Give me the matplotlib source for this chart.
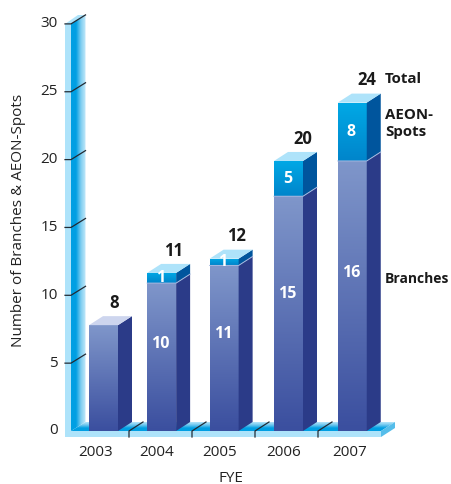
import numpy as np
import matplotlib
matplotlib.use('Agg')
import matplotlib.pyplot as plt
from matplotlib.colors import LinearSegmentedColormap
from matplotlib.patches import Polygon

years = ['2003', '2004', '2005', '2006', '2007']
bar_pos = [0, 0.93, 1.93, 2.96, 3.98]
# drawn heights do not follow the printed numbers, so both are kept
branch_height = [7.8, 10.9, 12.2, 17.3, 19.9]
spot_height = [0, 0.75, 0.5, 2.6, 4.3]
branch_labels = ['', '10', '11', '15', '16']
spot_labels = ['', '1', '1', '5', '8']
total_labels = ['8', '11', '12', '20', '24']
y_ticks = [0, 5, 10, 15, 20, 25, 30]

PX_X = 62.5
PX_Y = 13.57
W, H = 452, 484
X0, Y0 = 103.5, 431

# label nudges in pixels, the printed labels sit off centre of the bars
year_shift = [-7.5, -4.5, -4.5, -5, -2.5]
total_shift = [10.5, 11.5, 12, 14.5, 14.5]

def x(px):
    return (px - X0) / PX_X

def y(py):
    return (Y0 - py) / PX_Y

bw = 29 / PX_X
dx = 14 / PX_X
dy = 9 / PX_Y

plt.rcParams['font.family'] = ['Open Sans', 'DejaVu Sans']
fig = plt.figure(figsize=(W / 100, H / 100), dpi=100)
ax = fig.add_axes([0, 0, 1, 1])
ax.axis('off')

def grad_poly(pts, colors, horizontal=False, z=2):
    # colors run bottom to top, or left to right
    pts = np.array(pts)
    g = np.linspace(0, 1, 64)
    g = g.reshape(1, -1) if horizontal else g.reshape(-1, 1)
    cm = LinearSegmentedColormap.from_list('g', colors)
    im = ax.imshow(g, cmap=cm, origin='lower', aspect='auto', zorder=z,
                   extent=[pts[:, 0].min(), pts[:, 0].max(), pts[:, 1].min(), pts[:, 1].max()],
                   interpolation='bilinear')
    clip = Polygon(pts, closed=True, transform=ax.transData, fc='none', ec='none')
    ax.add_patch(clip)
    im.set_clip_path(clip)

def poly(pts, color, z=2):
    ax.add_patch(Polygon(pts, closed=True, fc=color, ec='none', zorder=z))

light = '#aee3fa'
blue = '#009fe3'

# back wall
poly([(x(65), y(24)), (x(71), y(24)), (x(85.5), y(15)), (x(78), y(15))], light)
poly([(x(65), y(24)), (x(71), y(24)), (x(71), y(437)), (x(65), y(437))], light)
grad_poly([(x(71), y(24)), (x(85.5), y(15)), (x(85.5), y(422)), (x(71), y(431))],
          [blue, blue, '#7fcdf0', '#c4eafb'], horizontal=True)

# floor
grad_poly([(x(71), y(431)), (x(85.5), y(422)), (x(395), y(422)), (x(381), y(431))],
          [blue, blue, '#6cc6ee', '#b5e5fa'])
poly([(x(65), y(431)), (x(381), y(431)), (x(381), y(437)), (x(65), y(437))], light, 3)
poly([(x(381), y(431)), (x(395), y(422)), (x(395), y(428)), (x(381), y(437))], '#55bdea', 3)

# ticks on the wall and floor
for t in y_ticks[1:]:
    ax.plot([x(65), x(71), x(85.5)], [t, t, t + dy], color='#222a33', lw=0.9, zorder=4)
for i in range(len(years) - 1):
    mx = x(129) + (x(318) - x(129)) * i / 3
    ax.plot([mx, mx, mx + dx], [y(437), 0, dy], color='#222a33', lw=0.9, zorder=4)

# bars
for i, pos in enumerate(bar_pos):
    left = pos - bw / 2
    right = pos + bw / 2
    b = branch_height[i]
    top = b + spot_height[i]
    grad_poly([(left, 0), (right, 0), (right, b), (left, b)], ['#3b4f9f', '#7f96ca'], z=5)
    poly([(right, 0), (right + dx, dy), (right + dx, b + dy), (right, b)], '#2b3b88', 5)
    if spot_height[i] > 0:
        grad_poly([(left, b), (right, b), (right, top), (left, top)], ['#0085cb', '#00a9e6'], z=5)
        poly([(right, b), (right + dx, b + dy), (right + dx, top + dy), (right, top)], '#00559d', 5)
        ax.plot([left, right, right + dx], [b, b, b + dy], color='#a5b8e0', lw=0.7, zorder=6)
        top_color = light
    else:
        top_color = '#cdd5ee'
    poly([(left, top), (right, top), (right + dx, top + dy), (left + dx, top + dy)], top_color, 5)

    if branch_labels[i]:
        ax.text(pos - 0.02, b * 0.585, branch_labels[i], color='white', fontsize=11.5,
                fontweight='bold', ha='center', va='center', zorder=7)
        ax.text(pos - 0.02, b + spot_height[i] * 0.5, spot_labels[i], color='white', fontsize=11.5,
                fontweight='bold', ha='center', va='center', zorder=7)
    ax.text(pos + total_shift[i] / PX_X, top + 1.65, total_labels[i], color='#1a1a1a', fontsize=12,
            fontweight='bold', ha='center', va='center', zorder=7)
    ax.text(pos + year_shift[i] / PX_X, y(453), years[i], color='#222222', fontsize=11,
            ha='center', va='center')

for t in y_ticks:
    ax.text(x(58), t, str(t), color='#222222', fontsize=11, ha='right', va='center')

ax.text(x(19), y(220), 'Number of Branches & AEON-Spots', color='#222222', fontsize=11,
        rotation=90, ha='center', va='center')
ax.text(x(231), y(478), 'FYE', color='#222222', fontsize=11, ha='center', va='center')

ax.text(x(385), y(79), 'Total', color='#1a1a1a', fontsize=10.8, fontweight='bold', va='center')
ax.text(x(385), y(115), 'AEON-', color='#1a1a1a', fontsize=10.8, fontweight='bold', va='center')
ax.text(x(385), y(132), 'Spots', color='#1a1a1a', fontsize=10.8, fontweight='bold', va='center')
ax.text(x(385), y(279), 'Branches', color='#1a1a1a', fontsize=10, fontweight='bold', va='center')

ax.set_xlim(x(0), x(W))
ax.set_ylim(y(H), y(0))
fig.savefig('out.png', dpi=100)
